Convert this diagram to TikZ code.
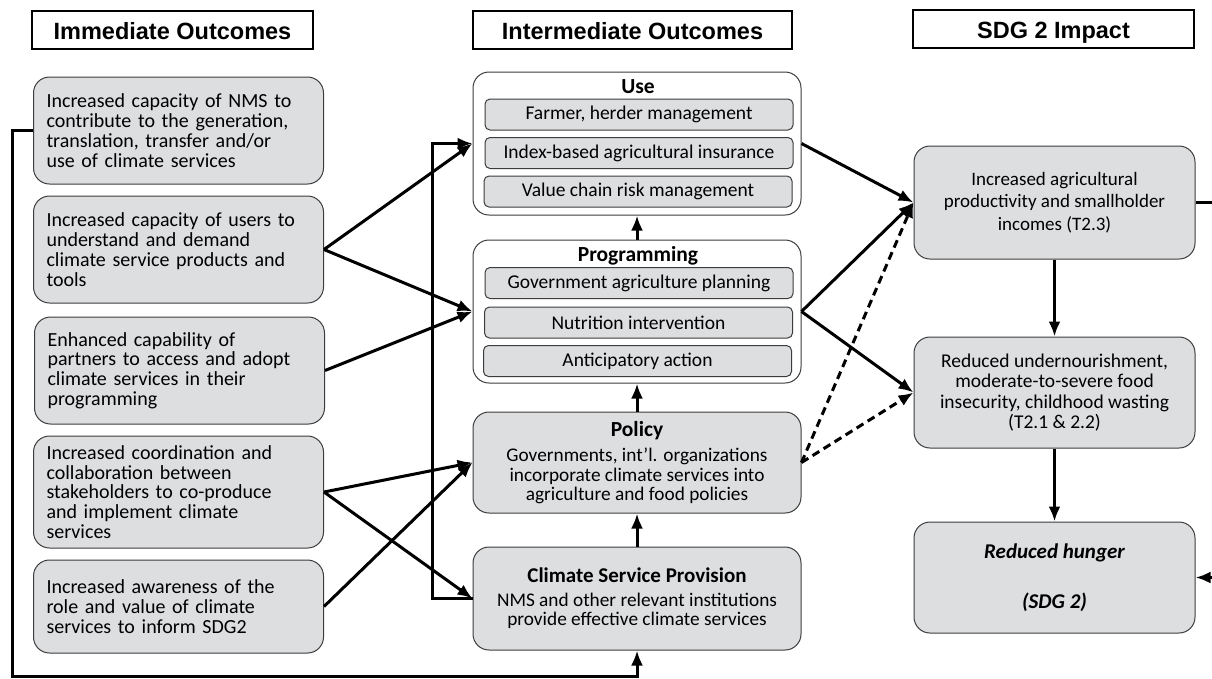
\documentclass[tikz,border=0pt]{standalone}
\usepackage{fontspec}
\setmainfont{Carlito}
\newfontfamily\hdrfont{Liberation Sans}
\usetikzlibrary{arrows.meta}
\definecolor{boxgray}{RGB}{221,222,224}
\definecolor{edgegray}{RGB}{60,60,60}
\begin{document}
\begin{tikzpicture}[x=1pt,y=-1pt,
  hdr/.style={draw=black,line width=1.6pt,fill=white,minimum height=38pt,inner sep=0pt,text height=18pt,text depth=0pt,font=\hdrfont\bfseries\fontsize{23.5}{23.5}\selectfont},
  outc/.style={draw=edgegray,line width=1pt,fill=boxgray,rounded corners=16pt,minimum width=290pt,text width=264pt,align=left,inner sep=0pt,font=\fontsize{20}{19.8}\selectfont},
  panel/.style={draw=edgegray,line width=1pt,fill=white,rounded corners=16pt,minimum width=328pt,minimum height=143pt},
  item/.style={draw=edgegray,line width=1pt,fill=boxgray,rounded corners=5pt,minimum width=308pt,minimum height=31pt,inner sep=0pt,font=\fontsize{19.5}{19.5}\selectfont},
  midbox/.style={draw=edgegray,line width=1pt,fill=boxgray,rounded corners=16pt,minimum width=328pt,align=center,inner sep=0pt,font=\fontsize{19.3}{19.5}\selectfont},
  sdgbox/.style={draw=edgegray,line width=1pt,fill=boxgray,rounded corners=16pt,minimum width=281pt,minimum height=111pt,align=center,inner sep=0pt,font=\fontsize{19}{19.5}\selectfont},
  ttl/.style={font=\bfseries\fontsize{21.5}{21.5}\selectfont,inner sep=0pt},
  arr/.style={line width=3pt,-{Latex[length=15pt,width=12pt]}},
  lnk/.style={line width=3pt}]
\useasboundingbox (0,0) rectangle (1212,678);
\node[hdr,minimum width=281pt] (hdrImm) at (172.5,30) {Immediate Outcomes};
\node[hdr,minimum width=319pt] (hdrInt) at (632.5,30) {Intermediate Outcomes};
\node[hdr,minimum width=281pt] (hdrSdg) at (1053.5,29) {SDG 2 Impact};
\node[outc,minimum height=107pt] (imA) at (178.5,130.5) {Increased capacity of NMS to\\contribute to the generation,\\translation, transfer and/or\\use of climate services};
\node[outc,minimum height=107pt] (imB) at (178.5,249.5) {Increased capacity of users to\\understand and demand\\climate service products and\\tools};
\node[outc,minimum height=107pt] (imC) at (179.5,370.5) {Enhanced capability of\\partners to access and adopt\\climate services in their\\programming};
\node[outc,minimum height=112pt] (imD) at (178.5,492) {Increased coordination and\\collaboration between\\stakeholders to co-produce\\and implement climate\\services};
\node[outc,minimum height=93pt] (imE) at (178.5,606.5) {Increased awareness of the\\role and value of climate\\services to inform SDG2};
\node[panel] (useBox) at (637,143.5) {};
\node[ttl] (useTitle) at (638,87) {Use};
\node[item] (farmer) at (639,114.5) {Farmer, herder management};
\node[item] (index) at (639,153) {Index-based agricultural insurance};
\node[item] (value) at (638,191.5) {Value chain risk management};
\node[panel] (progBox) at (637,311.5) {};
\node[ttl] (progTitle) at (638,256) {Programming};
\node[item] (gov) at (639,283) {Government agriculture planning};
\node[item] (nutr) at (638.5,322.5) {Nutrition intervention};
\node[item] (antic) at (637.5,361) {Anticipatory action};
\node[midbox,minimum height=101pt] (policy) at (637,462.5) {{\bfseries\fontsize{21.5}{21.5}\selectfont Policy}\\[6pt]Governments, int’l. organizations\\incorporate climate services into\\agriculture and food policies};
\node[midbox,minimum height=103pt] (csp) at (637,598.5) {{\bfseries\fontsize{21}{21}\selectfont Climate Service Provision}\\[4pt]NMS and other relevant institutions\\provide effective climate services};
\node[sdgbox,minimum height=113pt] (prodBox) at (1054.5,202.5) {Increased agricultural\\[3pt]productivity and smallholder\\[3pt]incomes (T2.3)};
\node[sdgbox,font=\fontsize{19.5}{19.5}\selectfont] (underBox) at (1054.5,392.5) {Reduced undernourishment,\\[1pt]moderate-to-severe food\\[1pt]insecurity, childhood wasting\\[1pt](T2.1 \& 2.2)};
\node[sdgbox,font=\bfseries\itshape\fontsize{21}{21}\selectfont] (hungerBox) at (1054.5,577.5) {Reduced hunger\\[29pt](SDG 2)};
\coordinate (loopL) at (12,676);
\coordinate (loopM) at (432,143.5);
\coordinate (loopR) at (1216,202.5);
\draw[arr] (imB.east) -- (useBox.west);
\draw[arr] (imB.east) -- (progBox.west);
\draw[arr] (imC.east) -- (progBox.west);
\draw[arr] (imD.east) -- (policy.west);
\draw[arr] (imD.east) -- (csp.west);
\draw[arr] (imE.east) -- (policy.west);
\draw[arr] (progBox.north) -- (useBox.south);
\draw[arr] (policy.north) -- (progBox.south);
\draw[arr] (csp.north) -- (policy.south);
\draw[arr] (useBox.east) -- (prodBox.west);
\draw[arr] (progBox.east) -- (prodBox.west);
\draw[arr] (progBox.east) -- (underBox.west);
\draw[arr,dash pattern=on 8pt off 5pt] (policy.east) -- (prodBox.west);
\draw[arr,dash pattern=on 8pt off 5pt] (policy.east) -- (underBox.west);
\draw[arr] (prodBox.south) -- (underBox.north);
\draw[arr] (underBox.south) -- (hungerBox.north);
\draw[arr] (imA.west) -| (loopL) -| (csp.south);
\draw[arr] (csp.west) -| (loopM) -- (useBox.west);
\draw[arr] (prodBox.east) -- (loopR) |- (hungerBox.east);
\end{tikzpicture}
\end{document}
